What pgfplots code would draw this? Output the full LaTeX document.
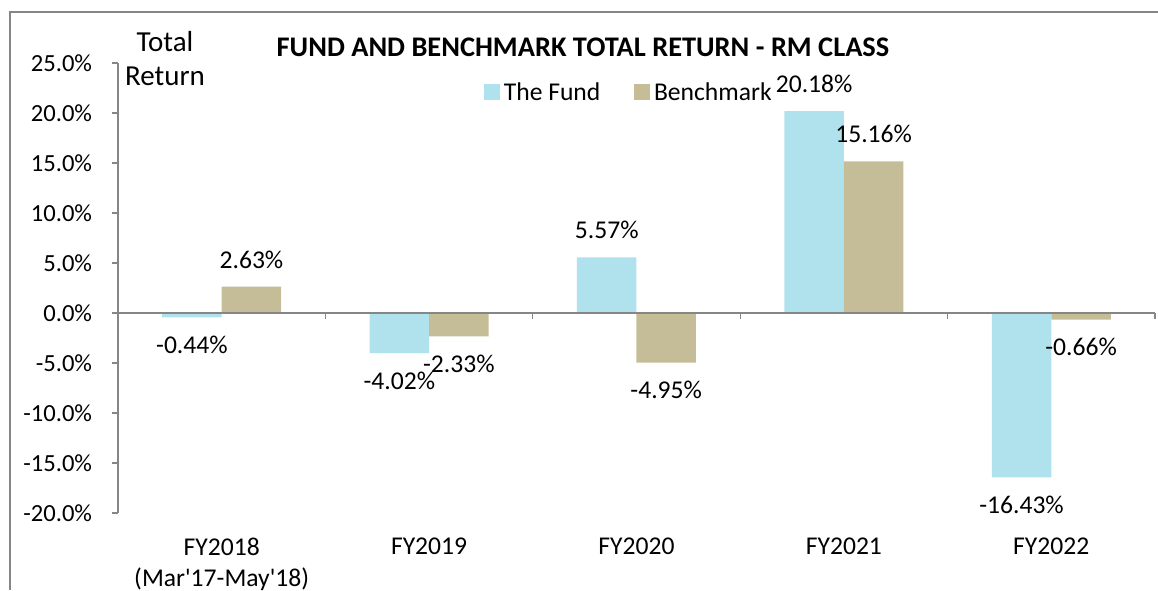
\documentclass[border=0pt]{standalone}
\usepackage{fontspec}
\setmainfont{Carlito}
\usepackage{pgfplots}
\pgfplotsset{compat=1.18}
\definecolor{fundc}{RGB}{176,226,237}
\definecolor{benchc}{RGB}{196,189,151}
\definecolor{axgray}{RGB}{134,134,134}
\begin{document}
\fontsize{12.8}{15.4}\selectfont
\begin{tikzpicture}
\path[use as bounding box] (0,0) rectangle (579pt,-295pt);
\draw[axgray, line width=0.7pt] (5pt,-295pt) -- (5pt,-6pt) -- (579pt,-6pt);
\node[font=\fontsize{14.2}{17}\selectfont\bfseries] at (291.5pt,-23.5pt) {FUND AND BENCHMARK TOTAL RETURN - RM CLASS};
\node[align=center, font=\fontsize{14.5}{17}\selectfont] at (82.5pt,-29.25pt) {Total\\Return};
\begin{axis}[
  at={(59pt,-31.5pt)}, anchor=north west,
  scale only axis, width=518.5pt, height=225pt,
  xmin=-0.5, xmax=4.5, ymin=-20, ymax=25,
  ybar=0pt, bar width=29.75pt,
  axis y line*=left, axis x line*=bottom,
  x axis line style={draw=none},
  y axis line style={axgray, line width=0.6pt, -},
  ytick={-20,-15,...,25},
  xtick={0,1,2,3,4},
  xticklabels={{FY2018\\(Mar\textquotesingle17-May\textquotesingle18)},FY2019,FY2020,FY2021,FY2022},
  xticklabel style={align=center, anchor=north, yshift=-5pt},
  yticklabel style={font=\fontsize{12.3}{14}\selectfont, xshift=-5.5pt},
  major x tick style={draw=none},
  ytick style={axgray, line width=0.6pt},
  tick align=outside, major tick length=3pt,
  yticklabel={\pgfmathprintnumber[fixed,fixed zerofill,precision=1]{\tick}\%},
  /pgf/number format/assume math mode=true,
  nodes near coords={\pgfmathprintnumber[fixed,fixed zerofill,precision=2,assume math mode=true]{\pgfplotspointmeta}\%},
  nodes near coords align=vertical,
  every node near coord/.append style={inner ysep=9pt, inner xsep=0pt, black},
  clip=false,
  legend style={draw=none, fill=none, at={(0.4937,0.933)}, anchor=center, legend columns=2, /tikz/every even column/.append style={column sep=15pt}},
  legend image code/.code={\fill[#1] (0pt,-3.2pt) rectangle (7.8pt,4.6pt);},
]
\addplot[draw=none, fill=fundc] coordinates {(0,-0.44) (1,-4.02) (2,5.57) (3,20.18) (4,-16.43)};
\addplot[draw=none, fill=benchc] coordinates {(0,2.63) (1,-2.33) (2,-4.95) (3,15.16) (4,-0.66)};
\legend{The Fund, Benchmark}
\draw[axgray, line width=0.6pt] (axis cs:-0.5,0) -- (axis cs:4.5,0);
\pgfplotsinvokeforeach{0.5,1.5,2.5,3.5,4.5}{\draw[axgray, line width=0.6pt] (axis cs:#1,0) -- ([yshift=-3pt]axis cs:#1,0);}
\end{axis}
\end{tikzpicture}
\end{document}
